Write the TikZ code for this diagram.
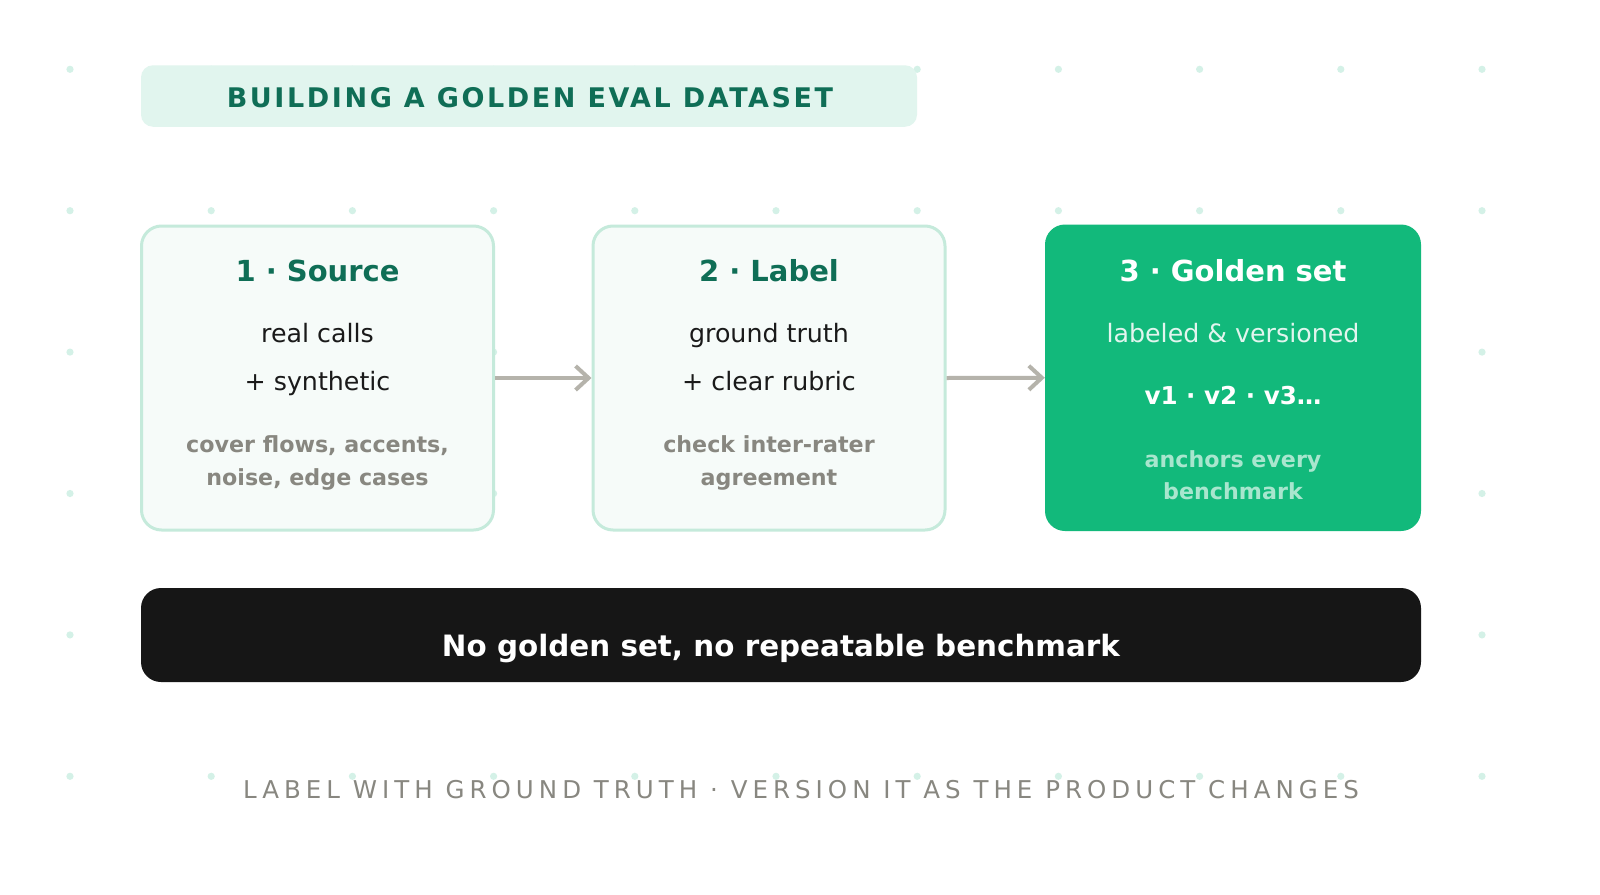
\documentclass[tikz,border=0pt]{standalone}
\usepackage{fontspec}
\setmainfont{DejaVu Sans}
\newfontfamily\titlefont[LetterSpace=9.6]{DejaVu Sans}
\newfontfamily\footfont[LetterSpace=20.5]{DejaVu Sans}
\usetikzlibrary{arrows.meta}
\definecolor{dotc}{HTML}{D4F1E7}
\definecolor{headc}{HTML}{0F6E56}
\definecolor{bandc}{HTML}{E1F5EE}
\definecolor{boxline}{HTML}{C5EADB}
\definecolor{boxfill}{HTML}{F6FBF9}
\definecolor{goldc}{HTML}{12B97B}
\definecolor{arrowc}{HTML}{B5B3AB}
\definecolor{notec}{HTML}{888780}
\definecolor{bodyc}{HTML}{1A1A1A}
\definecolor{barc}{HTML}{161616}
\definecolor{mintA}{HTML}{E1F5EE}
\definecolor{mintB}{HTML}{A8E6CE}
\begin{document}
\begin{tikzpicture}[x=1pt,y=-1pt,
  stepbox/.style={draw=boxline, line width=3pt, fill=boxfill, rounded corners=20pt,
    minimum width=352pt, minimum height=304pt, inner sep=0pt},
  goldbox/.style={fill=goldc, rounded corners=20pt, minimum width=376pt,
    minimum height=306.5pt, inner sep=0pt},
  band/.style={fill=bandc, rounded corners=12pt, minimum width=776pt,
    minimum height=61.5pt, inner sep=0pt},
  bar/.style={fill=barc, rounded corners=20pt, minimum width=1280pt,
    minimum height=94pt, inner sep=0pt},
  flow/.style={draw=arrowc, line width=4pt, -{Straight Barb[length=13pt,width=24pt]}},
  txt/.style={anchor=base, inner sep=0pt},
  hd/.style={txt, font=\fontsize{29}{34}\selectfont\bfseries, text=headc},
  body/.style={txt, font=\fontsize{25.3}{30}\selectfont, text=bodyc},
  note/.style={txt, font=\fontsize{22.2}{30}\selectfont\bfseries, text=notec},
  dot/.style={fill=dotc}
]
\useasboundingbox (0,0) rectangle (1600,894);
\fill[white] (0,0) rectangle (1600,894);
% dot grid
\foreach \i in {0,...,10}{
  \foreach \j in {0,...,5}{
    \fill[dot] ({70+141.2*\i},{69.3+141.4*\j}) circle (3.6pt);
  }
}
% title
\node[band] (title) at (529,96) {};
\node[txt, font=\fontsize{27}{32}\selectfont\titlefont\bfseries, text=headc] (titletxt) at (530,107.3) {BUILDING A GOLDEN EVAL DATASET};
% boxes
\node[stepbox] (b1) at (317.5,378) {};
\node[stepbox] (b2) at (769,378) {};
\node[goldbox] (b3) at (1233,377.75) {};
% arrows
\draw[flow] (b1.east) -- (b2.west);
\draw[flow] (b2.east) -- (b3.west);
% box 1 text
\node[hd] (h1) at (317.5,281.7) {1 · Source};
\node[body] (b1l1) at (317.5,342) {real calls};
\node[body] (b1l2) at (317.5,390.5) {+ synthetic};
\node[note] (n1a) at (317.5,452.5) {cover flows, accents,};
\node[note] (n1b) at (317.5,485.5) {noise, edge cases};
% box 2 text
\node[hd] (h2) at (769,281.7) {2 · Label};
\node[body] (b2l1) at (769,342) {ground truth};
\node[body] (b2l2) at (769,390.5) {+ clear rubric};
\node[note] (n2a) at (769,452.5) {check inter-rater};
\node[note] (n2b) at (769,485.5) {agreement};
% box 3 text
\node[hd, text=white] (h3) at (1233,281.7) {3 · Golden set};
\node[body, text=mintA] (b3l1) at (1233,342.5) {labeled \& versioned};
\node[txt, font=\fontsize{24.6}{30}\selectfont\bfseries, text=white] (b3l2) at (1233,404.3) {v1 · v2 · v3…};
\node[note, text=mintB] (n3a) at (1233,467) {anchors every};
\node[note, text=mintB] (n3b) at (1233,499) {benchmark};
% bottom bar
\node[bar] (barbox) at (781,635) {};
\node[txt, font=\fontsize{29.4}{34}\selectfont\bfseries, text=white] (bartxt) at (781,656) {No golden set, no repeatable benchmark};
% footer
\node[txt, font=\fontsize{24.5}{30}\selectfont\footfont, text=notec] (foot) at (801,798.5) {LABEL WITH GROUND TRUTH · VERSION IT AS THE PRODUCT CHANGES};
\end{tikzpicture}
\end{document}
